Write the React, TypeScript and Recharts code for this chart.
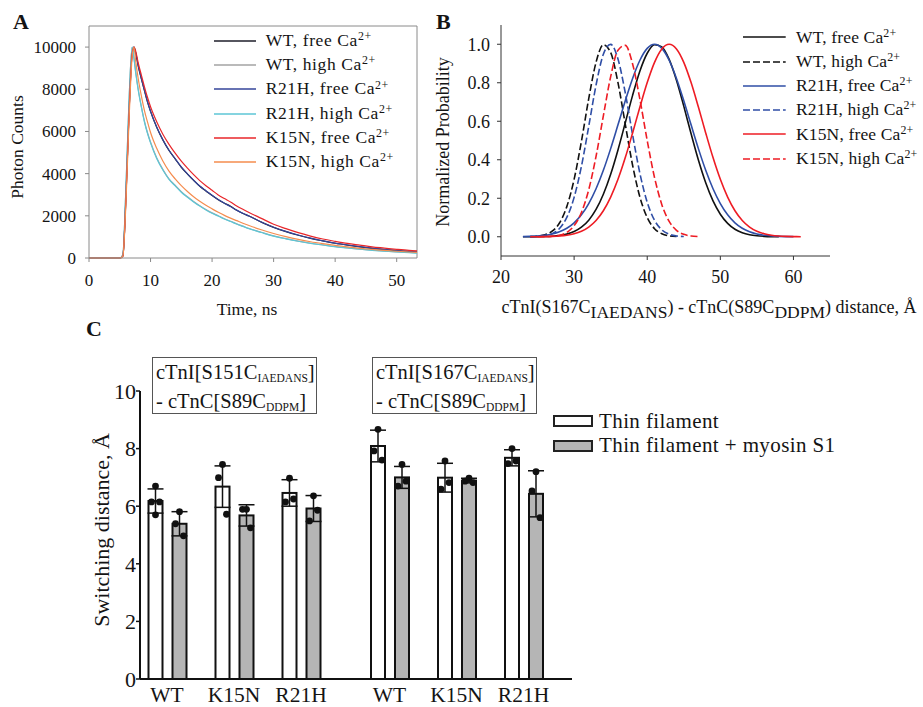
import React from 'react';
import {
  LineChart,
  Line,
  BarChart,
  Bar,
  ErrorBar,
  XAxis,
  YAxis,
  ReferenceLine,
  Legend,
} from 'recharts';

const SERIF = '"Liberation Serif", "Times New Roman", Times, serif';
const INK = '#141414';

// ---- Panel A: fluorescence decays (photon counts vs time, ns)
const decayTime = [0, 5, 5.5, 6, 6.5, 7, 7.3, 7.6, 8, 8.5, 9, 9.5, 10, 11, 12, 13, 14, 15, 16, 17, 18, 19, 20, 21, 22, 23, 24, 25, 26, 28, 30, 32, 34, 36, 38, 40, 42, 44, 46, 48, 50, 52, 53.3];
const wtFreeCounts = [0, 0, 100, 2900, 6900, 9700, 10000, 9700, 9100, 8500, 7950, 7400, 6950, 6200, 5600, 5100, 4700, 4300, 3980, 3680, 3400, 3180, 2960, 2760, 2600, 2450, 2260, 2110, 1990, 1700, 1450, 1250, 1080, 930, 810, 700, 610, 530, 460, 400, 350, 310, 290];
const wtHighCounts = [0, 0, 150, 3300, 7400, 10000, 9500, 8800, 8000, 7200, 6500, 5950, 5500, 4750, 4200, 3750, 3450, 3150, 2900, 2680, 2480, 2300, 2140, 2000, 1860, 1740, 1620, 1510, 1400, 1220, 1050, 920, 800, 700, 620, 540, 480, 420, 370, 330, 290, 260, 240];
const r21hFreeCounts = [0, 0, 90, 2850, 6850, 9650, 10000, 9720, 9120, 8520, 7960, 7420, 6960, 6210, 5610, 5110, 4710, 4320, 3990, 3690, 3410, 3190, 2970, 2770, 2600, 2440, 2270, 2120, 1990, 1710, 1460, 1260, 1090, 940, 815, 705, 615, 535, 465, 405, 355, 315, 295];
const r21hHighCounts = [0, 0, 160, 3350, 7450, 10000, 9480, 8760, 7960, 7160, 6460, 5910, 5460, 4720, 4170, 3730, 3420, 3120, 2880, 2660, 2460, 2280, 2120, 1990, 1850, 1730, 1610, 1500, 1390, 1210, 1040, 910, 795, 695, 615, 535, 475, 415, 365, 325, 285, 255, 235];
const k15nFreeCounts = [0, 0, 80, 2800, 6800, 9650, 10000, 9800, 9250, 8680, 8130, 7620, 7170, 6460, 5870, 5390, 4970, 4590, 4260, 3950, 3670, 3430, 3210, 2990, 2820, 2660, 2470, 2310, 2160, 1880, 1600, 1390, 1200, 1040, 900, 790, 690, 610, 530, 470, 410, 360, 340];
const k15nHighCounts = [0, 0, 80, 2600, 6500, 9500, 10000, 9300, 8500, 7700, 7000, 6450, 5950, 5200, 4600, 4120, 3750, 3430, 3150, 2900, 2690, 2500, 2330, 2170, 2020, 1890, 1770, 1650, 1540, 1340, 1160, 1010, 880, 770, 680, 600, 530, 460, 410, 360, 320, 285, 265];
const decayXTicks = [0, 10, 20, 30, 40, 50];
const decayYTicks = [0, 2000, 4000, 6000, 8000, 10000];

// ---- Panel B: distance distributions (normalized)
const distance = [23, 24, 25, 26, 27, 28, 29, 30, 31, 32, 33, 34, 35, 36, 37, 38, 39, 40, 41, 42, 43, 44, 45, 46, 47, 48, 49, 50, 51, 52, 53, 54, 55, 56, 57, 58, 59, 60, 61];
const wtFreeProb = [0.0001, 0.0002, 0.0005, 0.0013, 0.003, 0.0067, 0.0137, 0.0268, 0.0494, 0.0861, 0.1419, 0.2209, 0.3247, 0.451, 0.5921, 0.7344, 0.8608, 0.9532, 0.9975, 0.9862, 0.9214, 0.8133, 0.6784, 0.5347, 0.3982, 0.2802, 0.1862, 0.117, 0.0695, 0.039, 0.0207, 0.0103, 0.0049, 0.0022, 0.0009, 0.0004, null, null, null];
const wtHighProb = [null, 0.0008, 0.003, 0.0099, 0.0286, 0.0716, 0.1565, 0.2982, 0.4954, 0.7175, 0.906, 0.9973, 0.957, 0.8007, 0.5841, 0.3714, 0.2059, 0.0995, 0.042, 0.0154, 0.0049, 0.0014, null, null, null, null, null, null, null, null, null, null, null, null, null, null, null, null, null];
const r21hFreeProb = [0.0009, 0.0019, 0.0039, 0.0076, 0.0142, 0.0255, 0.0439, 0.0724, 0.1141, 0.1724, 0.2494, 0.3453, 0.4578, 0.5813, 0.7067, 0.8226, 0.9169, 0.9785, 1, 0.9785, 0.9169, 0.8226, 0.7067, 0.5813, 0.4578, 0.3453, 0.2494, 0.1724, 0.1141, 0.0724, 0.0439, 0.0255, 0.0142, 0.0076, 0.0039, 0.0019, 0.0009, 0.0004, null];
const r21hHighProb = [null, 0.0004, 0.0015, 0.0053, 0.0161, 0.0429, 0.1002, 0.2045, 0.3658, 0.5735, 0.7877, 0.9479, 0.9993, 0.9231, 0.7471, 0.5297, 0.3291, 0.1791, 0.0854, 0.0357, 0.0131, 0.0042, 0.0012, null, null, null, null, null, null, null, null, null, null, null, null, null, null, null, null];
const k15nFreeProb = [null, 0.0001, 0.0003, 0.0008, 0.0018, 0.0039, 0.0079, 0.0154, 0.0286, 0.0504, 0.0847, 0.1353, 0.2059, 0.2982, 0.4111, 0.5394, 0.6736, 0.8007, 0.906, 0.9756, 1, 0.9756, 0.906, 0.8007, 0.6736, 0.5394, 0.4111, 0.2982, 0.2059, 0.1353, 0.0847, 0.0504, 0.0286, 0.0154, 0.0079, 0.0039, 0.0018, 0.0008, 0.0003];
const k15nHighProb = [null, null, 0.0002, 0.0007, 0.0025, 0.008, 0.0228, 0.0571, 0.126, 0.2445, 0.4177, 0.6282, 0.8317, 0.9692, 0.9943, 0.8978, 0.7137, 0.4993, 0.3075, 0.1668, 0.0796, 0.0334, 0.0124, 0.004, 0.0012, null, null, null, null, null, null, null, null, null, null, null, null, null, null];
const distXTicks = [20, 30, 40, 50, 60];
const probTicks = [0, 0.2, 0.4, 0.6, 0.8, 1.0];

// ---- Panel C: switching distances
const mutants = ['WT', 'K15N', 'R21H'];
const s151Thin = [6.18, 6.68, 6.46];
const s151ThinErr = [0.42, 0.72, 0.46];
const s151ThinPts = [[6.7, 6.15, 6.15, 5.7], [7.45, 6.99, 5.72], [6.97, 6.15, 6.25]];
const s151Myo = [5.39, 5.68, 5.92];
const s151MyoErr = [0.42, 0.37, 0.45];
const s151MyoPts = [[5.81, 5.39, 4.97], [5.89, 5.89, 5.25], [6.36, 5.49, 5.86]];
const s167Thin = [8.09, 6.99, 7.68];
const s167ThinErr = [0.55, 0.5, 0.28];
const s167ThinPts = [[8.67, 7.92, 7.6], [7.57, 6.59, 6.82], [8.0, 7.48, 7.57]];
const s167Myo = [7.0, 6.89, 6.43];
const s167MyoErr = [0.38, 0.08, 0.8];
const s167MyoPts = [[7.45, 6.7, 6.87], [6.97, 6.87, 6.82], [7.2, 6.53, 5.6]];
const switchTicks = [0, 2, 4, 6, 8, 10];

const decaySeries = [
  { key: 'wtFree', mutant: 'WT', cond: 'free', color: '#1e1e2a', values: wtFreeCounts },
  { key: 'wtHigh', mutant: 'WT', cond: 'high', color: '#a3a3a3', values: wtHighCounts },
  { key: 'r21hFree', mutant: 'R21H', cond: 'free', color: '#34449a', values: r21hFreeCounts },
  { key: 'r21hHigh', mutant: 'R21H', cond: 'high', color: '#5cc6d6', values: r21hHighCounts },
  { key: 'k15nFree', mutant: 'K15N', cond: 'free', color: '#e8262a', values: k15nFreeCounts },
  { key: 'k15nHigh', mutant: 'K15N', cond: 'high', color: '#f58c4e', values: k15nHighCounts },
];

const distSeries = [
  { key: 'wtFree', mutant: 'WT', cond: 'free', color: '#111111', dash: undefined, values: wtFreeProb },
  { key: 'wtHigh', mutant: 'WT', cond: 'high', color: '#111111', dash: '7 3', values: wtHighProb },
  { key: 'r21hFree', mutant: 'R21H', cond: 'free', color: '#2f4ea6', dash: undefined, values: r21hFreeProb },
  { key: 'r21hHigh', mutant: 'R21H', cond: 'high', color: '#2f4ea6', dash: '7 3', values: r21hHighProb },
  { key: 'k15nFree', mutant: 'K15N', cond: 'free', color: '#ee1c24', dash: undefined, values: k15nFreeProb },
  { key: 'k15nHigh', mutant: 'K15N', cond: 'high', color: '#ee1c24', dash: '7 3', values: k15nHighProb },
];

const decayData = decayTime.map((t, i) => {
  const row: any = { t };
  decaySeries.forEach((s) => (row[s.key] = s.values[i]));
  return row;
});

const distData = distance.map((d, i) => {
  const row: any = { d };
  distSeries.forEach((s) => (row[s.key] = s.values[i]));
  return row;
});

const buildBars = (thin, thinErr, thinPts, myo, myoErr, myoPts) =>
  mutants.map((m, i) => ({
    cat: m,
    thin: thin[i],
    thinErr: thinErr[i],
    thinPts: thinPts[i],
    myo: myo[i],
    myoErr: myoErr[i],
    myoPts: myoPts[i],
  }));

const s151Data = buildBars(s151Thin, s151ThinErr, s151ThinPts, s151Myo, s151MyoErr, s151MyoPts);
const s167Data = buildBars(s167Thin, s167ThinErr, s167ThinPts, s167Myo, s167MyoErr, s167MyoPts);

const Sup = ({ children }) => (
  <span style={{ fontSize: '0.68em', position: 'relative', top: '-0.5em' }}>{children}</span>
);
const Sub = ({ children, size }) => (
  <span style={{ fontSize: size, position: 'relative', top: '0.3em' }}>{children}</span>
);

const LineLegend = ({ items, swatch, gap, fontSize, rowH, width, spacing }) => (
  <div style={{ fontFamily: SERIF, fontSize, color: INK, lineHeight: 1, letterSpacing: spacing }}>
    {items.map((s) => (
      <div key={s.key} style={{ display: 'flex', alignItems: 'center', height: rowH, whiteSpace: 'nowrap' }}>
        <svg width={swatch} height={6} style={{ marginRight: gap, flex: 'none' }}>
          <line x1={0} y1={3} x2={swatch} y2={3} stroke={s.color} strokeWidth={width} strokeDasharray={s.dash} />
        </svg>
        <span>
          {s.mutant}, {s.cond} Ca<Sup>2+</Sup>
        </span>
      </div>
    ))}
  </div>
);

const barSeries = [
  { key: 'thin', name: 'Thin filament', fill: '#ffffff' },
  { key: 'myo', name: 'Thin filament + myosin S1', fill: '#b5b5b5' },
];

const BarLegend = () => (
  <div style={{ fontFamily: SERIF, fontSize: 21, color: INK, lineHeight: 1, letterSpacing: 0.4 }}>
    {barSeries.map((s) => (
      <div key={s.key} style={{ display: 'flex', alignItems: 'center', height: 24.5, whiteSpace: 'nowrap' }}>
        <div
          style={{
            width: 36,
            height: 8,
            border: '2px solid #222',
            background: s.fill,
            marginRight: 6,
            flex: 'none',
          }}
        />
        <span>{s.name}</span>
      </div>
    ))}
  </div>
);

const JITTER = [0, -4, 4, 0];

const barShape = (valueKey: string, ptsKey: string) => (props: any) => {
  const { x, y, width, height, fill, payload } = props;
  const v = payload[valueKey];
  const perUnit = v ? height / v : 0;
  const base = y + height;
  const pts: number[] = payload[ptsKey] || [];
  return (
    <g>
      <rect x={x} y={y} width={width} height={height} fill={fill} stroke="#111" strokeWidth={2} />
      {pts.map((p, i) => (
        <circle key={i} cx={x + width / 2 + JITTER[i % 4]} cy={base - p * perUnit} r={3.4} fill="#111" />
      ))}
    </g>
  );
};

const SwitchBars = ({ data, showY, width, margin, padding, legend }) => (
  <BarChart width={width} height={367} data={data} margin={margin} barGap={10}>
    <XAxis
      dataKey="cat"
      interval={0}
      padding={padding}
      height={28}
      tickLine={false}
      tickSize={6}
      tickMargin={2}
      axisLine={{ stroke: '#111', strokeWidth: 2 }}
      tick={{ fill: INK, fontSize: 21.5, fontFamily: SERIF }}
    />
    <YAxis
      hide={!showY}
      domain={[0, 10]}
      ticks={switchTicks}
      width={140}
      tickSize={4}
      tickMargin={0}
      axisLine={{ stroke: '#111', strokeWidth: 2 }}
      tickLine={{ stroke: '#111', strokeWidth: 1.5 }}
      tick={{ fill: INK, fontSize: 22, fontFamily: SERIF }}
    />
    <Bar dataKey="thin" name="Thin filament" barSize={14} fill="#ffffff" shape={barShape('thin', 'thinPts')} isAnimationActive={false}>
      <ErrorBar dataKey="thinErr" width={8} stroke="#111" strokeWidth={1.5} direction="y" />
    </Bar>
    <Bar dataKey="myo" name="Thin filament + myosin S1" barSize={14} fill="#b5b5b5" shape={barShape('myo', 'myoPts')} isAnimationActive={false}>
      <ErrorBar dataKey="myoErr" width={8} stroke="#111" strokeWidth={1.5} direction="y" />
    </Bar>
    {legend && (
      <Legend
        layout="vertical"
        align="center"
        verticalAlign="middle"
        wrapperStyle={{ left: 208, top: 68.75, width: 'auto' }}
        content={() => <BarLegend />}
      />
    )}
  </BarChart>
);

const abs = (left: number, top: number, extra = {}) => ({ position: 'absolute' as const, left, top, ...extra });

const centered = (x: number, y: number, fontSize: number, rotate = false) => ({
  position: 'absolute' as const,
  left: x,
  top: y,
  fontSize,
  whiteSpace: 'nowrap' as const,
  lineHeight: 1,
  transform: `translate(-50%, -50%)${rotate ? ' rotate(-90deg)' : ''}`,
});

const annotationBox = (left: number, site: string) => (
  <div
    style={abs(left, 357, {
      width: 160,
      height: 54,
      border: '1px solid #555',
      fontSize: 20.5,
      lineHeight: '26px',
      paddingLeft: 3,
      paddingTop: 1,
      whiteSpace: 'nowrap',
    })}
  >
    <div>
      cTnI[{site}C<Sub size={11.5}>IAEDANS</Sub>]
    </div>
    <div>
      - cTnC[S89C<Sub size={11.5}>DDPM</Sub>]
    </div>
  </div>
);

export default function App() {
  return (
    <div
      style={{
        position: 'absolute',
        left: 0,
        top: 0,
        width: 923,
        height: 707,
        overflow: 'hidden',
        background: '#fff',
        fontFamily: SERIF,
        color: INK,
      }}
    >
      {/* A */}
      <div style={abs(0, 0)}>
        <LineChart width={430} height={320} data={decayData} margin={{ top: 26, right: 13, left: 29, bottom: 32 }}>
          <XAxis
            type="number"
            dataKey="t"
            domain={[0, 53.3]}
            ticks={decayXTicks}
            allowDataOverflow
            height={30}
            tickSize={4}
            tickMargin={12}
            stroke="#8a8a8a"
            tick={{ fill: INK, fontSize: 17, fontFamily: SERIF }}
          />
          <YAxis
            type="number"
            domain={[0, 11000]}
            ticks={decayYTicks}
            width={60}
            tickSize={4}
            tickMargin={9}
            stroke="#8a8a8a"
            tick={{ fill: INK, fontSize: 17, fontFamily: SERIF }}
          />
          <ReferenceLine y={11000} stroke="#8a8a8a" />
          <ReferenceLine x={53.3} stroke="#8a8a8a" />
          {decaySeries.map((s) => (
            <Line
              key={s.key}
              type="monotone"
              dataKey={s.key}
              stroke={s.color}
              strokeWidth={1.2}
              dot={false}
              isAnimationActive={false}
            />
          ))}
          <Legend
            layout="vertical"
            align="center"
            verticalAlign="middle"
            wrapperStyle={{ left: 214, top: 28.5, width: 'auto' }}
            content={() => (
              <LineLegend items={decaySeries} swatch={42} gap={9.7} fontSize={17.5} rowH={24.3} width={1.6} spacing={0.6} />
            )}
          />
        </LineChart>
      </div>
      <div style={{ ...abs(13, 11), fontSize: 22, fontWeight: 'bold', lineHeight: 1 }}>A</div>
      <div style={centered(17.5, 146.7, 17.5, true)}>Photon Counts</div>
      <div style={centered(247, 310, 17.5)}>Time, ns</div>

      {/* B */}
      <div style={abs(430, 0)}>
        <LineChart width={493} height={320} data={distData} margin={{ top: 25, right: 93, left: 11, bottom: 34 }}>
          <XAxis
            type="number"
            dataKey="d"
            domain={[20, 65]}
            ticks={distXTicks}
            height={30}
            tickSize={4}
            tickMargin={10}
            stroke="#333"
            tick={{ fill: INK, fontSize: 18, fontFamily: SERIF }}
          />
          <YAxis
            type="number"
            domain={[-0.1, 1.1]}
            ticks={probTicks}
            tickFormatter={(v) => Number(v).toFixed(1)}
            width={60}
            tickSize={4}
            tickMargin={7}
            stroke="#333"
            tick={{ fill: INK, fontSize: 18, fontFamily: SERIF }}
          />
          {distSeries.map((s) => (
            <Line
              key={s.key}
              type="monotone"
              dataKey={s.key}
              stroke={s.color}
              strokeWidth={1.6}
              strokeDasharray={s.dash}
              dot={false}
              isAnimationActive={false}
            />
          ))}
          <Legend
            layout="vertical"
            align="center"
            verticalAlign="middle"
            wrapperStyle={{ left: 313.3, top: 25.15, width: 'auto' }}
            content={() => (
              <LineLegend items={distSeries} swatch={42.7} gap={10} fontSize={17.5} rowH={24.3} width={1.6} spacing={0.15} />
            )}
          />
        </LineChart>
      </div>
      <div style={{ ...abs(436, 11), fontSize: 22, fontWeight: 'bold', lineHeight: 1 }}>B</div>
      <div style={centered(443, 141.7, 18, true)}>Normalized Probability</div>
      <div style={centered(709, 307, 18)}>
        cTnI(S167C<Sub size={17.5}>IAEDANS</Sub>) - cTnC(S89C<Sub size={17.5}>DDPM</Sub>) distance, Å
      </div>

      {/* C */}
      <div style={abs(0, 340)}>
        <SwitchBars
          data={s151Data}
          showY
          width={345}
          margin={{ top: 51, right: 0, left: 0, bottom: 0 }}
          padding={{ left: -6.5, right: 10.5 }}
          legend={false}
        />
      </div>
      <div style={abs(345, 340)}>
        <SwitchBars
          data={s167Data}
          showY={false}
          width={578}
          margin={{ top: 51, right: 351, left: 0, bottom: 0 }}
          padding={{ left: 11, right: 15 }}
          legend
        />
      </div>
      <div style={{ ...abs(86, 318), fontSize: 22, fontWeight: 'bold', lineHeight: 1 }}>C</div>
      <div style={centered(102.3, 530, 22, true)}>Switching distance, Å</div>
      {annotationBox(152, 'S151')}
      {annotationBox(372, 'S167')}
    </div>
  );
}
